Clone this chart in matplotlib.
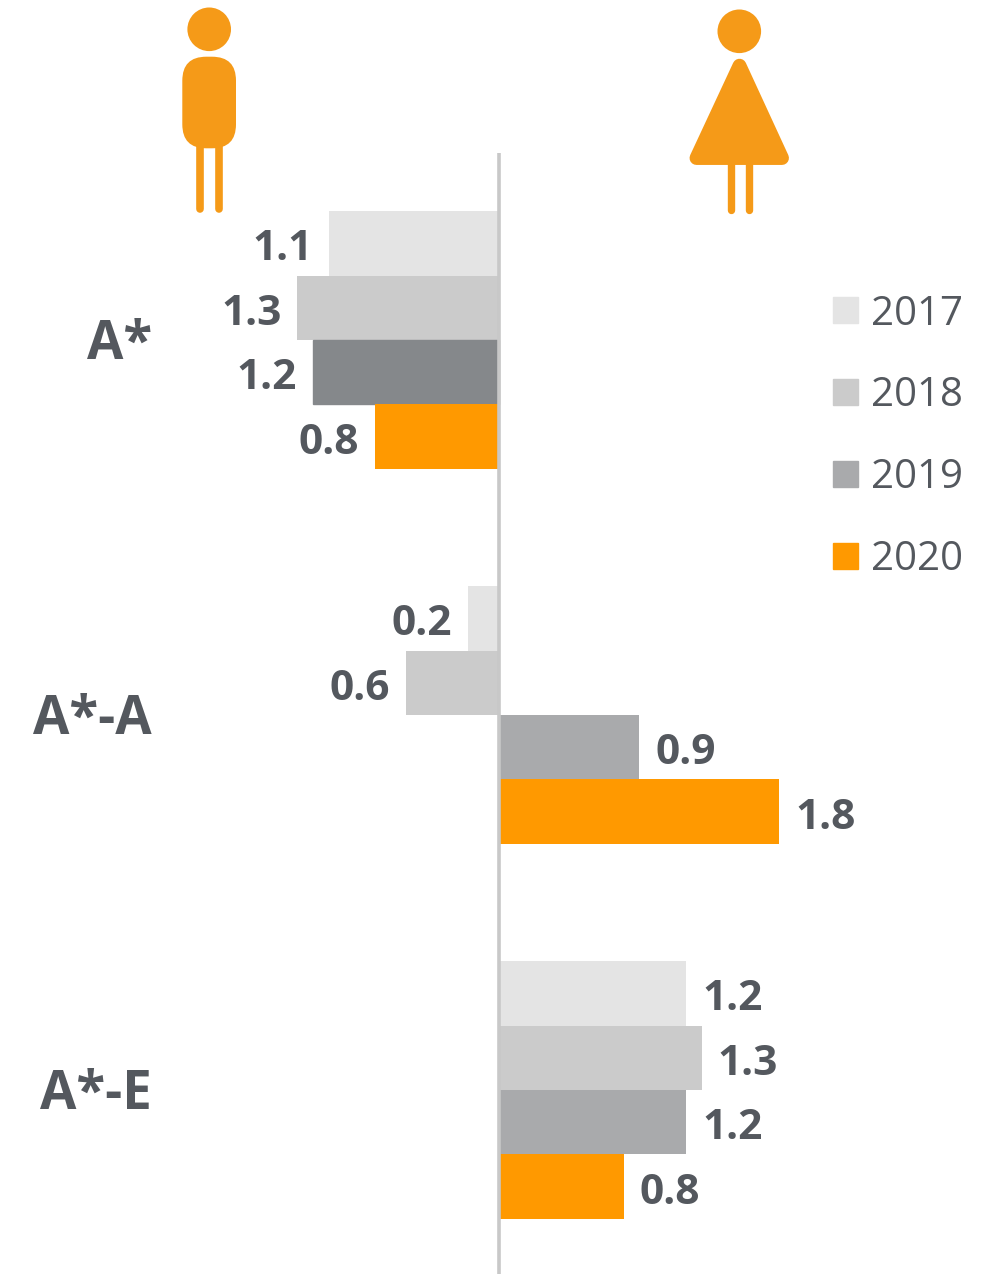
import matplotlib
matplotlib.use('Agg')
import matplotlib.pyplot as plt
import numpy as np
from matplotlib.patches import Circle, FancyBboxPatch, Polygon, Patch
from matplotlib.lines import Line2D

categories = ['A*', 'A*-A', 'A*-E']
years = ['2017', '2018', '2019', '2020']
# negative = left side (men), positive = right side (women)
values_2017 = [-1.1, -0.2, 1.2]
values_2018 = [-1.3, -0.6, 1.3]
values_2019 = [-1.2, 0.9, 1.2]
values_2020 = [-0.8, 1.8, 0.8]
series = [values_2017, values_2018, values_2019, values_2020]

colors = ['#e4e4e4', '#cbcbcb', '#a9aaac', '#ff9900']
dark_2019 = '#85888b'  # first 2019 bar is darker in the original
text_color = '#54585e'
icon_color = '#f59a18'
line_color = '#c8c8c8'

W, H = 989, 1274
PX_PER_UNIT = 155.4
ZERO_PX = 499.5
GROUP_PX = 375
FIRST_GROUP_PX = 340
BAR_PX = 64.4

plt.rcParams['font.family'] = ['Open Sans', 'DejaVu Sans']

fig = plt.figure(figsize=(W / 100, H / 100), dpi=100)
ax = fig.add_axes([0, 0, 1, 1])
ax.set_xlim(-ZERO_PX / PX_PER_UNIT, (W - ZERO_PX) / PX_PER_UNIT)
ax.set_ylim((H - FIRST_GROUP_PX) / GROUP_PX, -FIRST_GROUP_PX / GROUP_PX)
ax.axis('off')

bar_h = BAR_PX / GROUP_PX
for i, vals in enumerate(series):
    ypos = np.arange(len(categories)) + (i - 1.5) * bar_h
    bars = ax.barh(ypos, vals, height=bar_h, color=colors[i], zorder=2)
    if i == 2:
        bars[0].set_color(dark_2019)
    for y, v in zip(ypos, vals):
        offset = 16 if v > 0 else -16
        ax.annotate(f'{abs(v):.1f}', (v, y), xytext=(offset * 0.72, -4.7),
                    textcoords='offset points', va='center',
                    ha='left' if v > 0 else 'right',
                    fontsize=30.5, fontweight='bold', color=text_color)

ax.plot([0, 0], [(153 - FIRST_GROUP_PX) / GROUP_PX, (H - FIRST_GROUP_PX) / GROUP_PX],
        color=line_color, lw=2.6, zorder=3, solid_capstyle='butt')

for k, cat in enumerate(categories):
    ax.annotate(cat, (0, k), xytext=(152, H - (FIRST_GROUP_PX + k * GROUP_PX) - 5),
                xycoords='data', textcoords='figure pixels', ha='right', va='center',
                fontsize=38, fontweight='bold', color=text_color)

# legend
handles = [Patch(color=c, label=y) for c, y in zip(colors, years)]
ax.legend(handles=handles, loc='upper left', bbox_to_anchor=(833 / W, 1 - 294 / H),
          frameon=False, fontsize=29, labelcolor=text_color, handlelength=0.62,
          handleheight=0.62, handletextpad=0.33, labelspacing=1.025, borderpad=0,
          borderaxespad=0)

# pictograms, drawn in pixel coordinates on an overlay
icons = fig.add_axes([0, 0, 1, 1], facecolor='none')
icons.set_xlim(0, W)
icons.set_ylim(H, 0)
icons.axis('off')

# man
icons.add_patch(Circle((209.2, 29.3), 21.8, color=icon_color, lw=0))
icons.add_patch(FancyBboxPatch((182.3, 56.7), 53.7, 91.6, boxstyle='round,pad=0,rounding_size=24',
                               color=icon_color, lw=0))
for x in (199.8, 218.8):
    icons.add_line(Line2D([x, x], [145, 209], color=icon_color, lw=5.5, solid_capstyle='round'))

# woman
icons.add_patch(Circle((739.3, 31.3), 21.8, color=icon_color, lw=0))
icons.add_patch(Polygon([(739.5, 65.7), (782, 158), (696.5, 158)], closed=True, fc=icon_color,
                        ec=icon_color, lw=10, joinstyle='round'))
for x in (730.5, 749):
    icons.add_line(Line2D([x, x], [160, 210], color=icon_color, lw=5.3, solid_capstyle='round'))

fig.savefig('out.png', dpi=100)
